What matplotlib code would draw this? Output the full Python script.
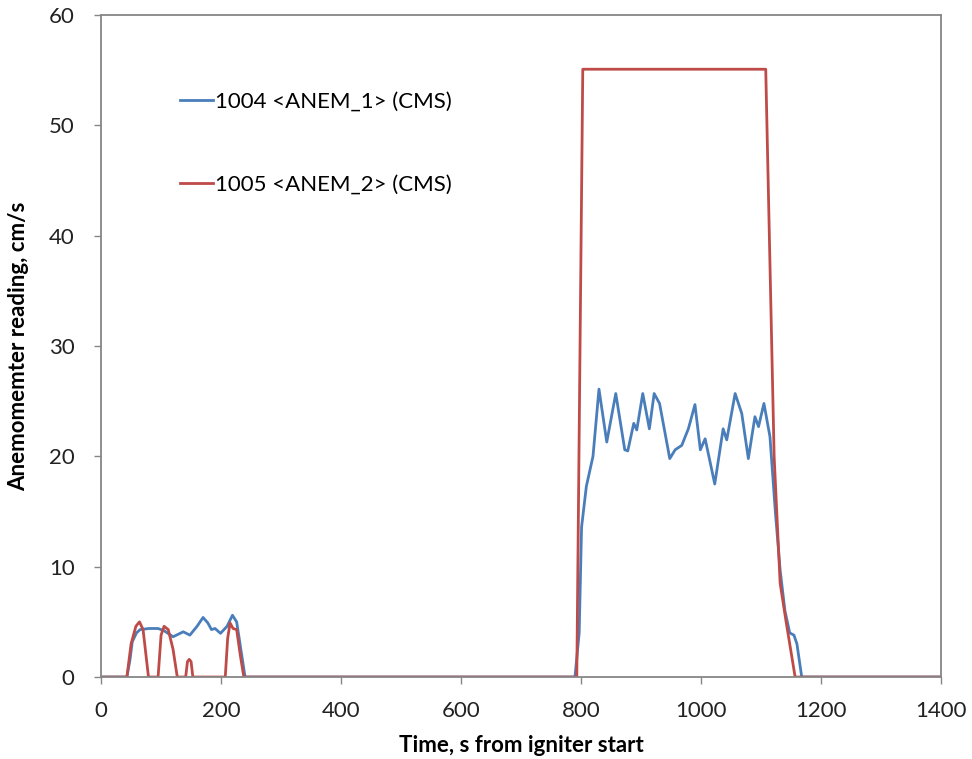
import matplotlib
matplotlib.use('Agg')
import matplotlib.pyplot as plt

# anemometer 1 (blue)
t1 = [0, 43, 48, 52, 59, 65, 80, 95, 105, 120, 137, 148, 160, 170, 178, 184, 190, 199, 210,
      219, 226, 233, 240, 250, 790, 797, 801, 809, 820, 830, 843, 858, 873, 878, 888, 893, 903,
      914, 922, 931, 948, 957, 968, 979, 990, 999, 1007, 1023, 1037, 1043, 1057, 1068, 1079,
      1090, 1096, 1105, 1115, 1124, 1132, 1140, 1148, 1155, 1160, 1168, 1400]
v1 = [0, 0, 1.5, 3.2, 4.0, 4.3, 4.4, 4.4, 4.2, 3.65, 4.1, 3.8, 4.6, 5.4, 4.9, 4.3, 4.4, 3.96, 4.6,
      5.6, 5.0, 2.5, 0, 0, 0, 4.0, 13.6, 17.3, 20.0, 26.1, 21.3, 25.7, 20.6, 20.5, 23.0, 22.4, 25.7,
      22.5, 25.7, 24.8, 19.8, 20.6, 21.0, 22.5, 24.7, 20.6, 21.6, 17.5, 22.5, 21.5, 25.7, 23.9, 19.8,
      23.6, 22.7, 24.8, 21.8, 15.0, 9.7, 6.0, 4.0, 3.8, 3.0, 0, 0]

# anemometer 2 (red)
t2 = [0, 43, 50, 58, 64, 70, 79, 95, 100, 105, 112, 120, 127, 141, 144, 147, 150, 153, 207, 211,
      215, 220, 226, 232, 238, 793, 803, 1108, 1122, 1132, 1142, 1157, 1400]
v2 = [0, 0, 3.0, 4.6, 5.0, 4.3, 0, 0, 3.8, 4.6, 4.3, 2.5, 0, 0, 1.4, 1.6, 1.4, 0, 0, 3.5,
      4.9, 4.4, 4.3, 2.0, 0, 0, 55.1, 55.1, 20.0, 8.5, 5.0, 0, 0]

xticks = [0, 200, 400, 600, 800, 1000, 1200, 1400]
yticks = [0, 10, 20, 30, 40, 50, 60]

plt.rcParams['font.family'] = ['Lato', 'DejaVu Sans']

fig = plt.figure(figsize=(9.72, 7.59), dpi=100)
ax = fig.add_axes([0.104, 0.108, 0.864, 0.872])

ax.plot(t1, v1, color='#4a7ebb', lw=2.0, label='1004 <ANEM_1> (CMS)')
ax.plot(t2, v2, color='#be4b48', lw=2.0, label='1005 <ANEM_2> (CMS)')

ax.set_xlim(0, 1400)
ax.set_ylim(0, 60)
ax.set_xticks(xticks)
ax.set_yticks(yticks)
ax.tick_params(labelsize=16, colors='#222222', length=5, width=1)
ax.tick_params(axis='both', color='#868686')
ax.tick_params(axis='x', pad=12)
ax.tick_params(axis='y', pad=14)
for s in ax.spines.values():
    s.set_color('#868686')
    s.set_linewidth(1.3)

ax.set_xlabel('Time, s from igniter start', fontsize=16, fontweight='bold', labelpad=10)
ax.set_ylabel('Anemomemter reading, cm/s', fontsize=16, fontweight='bold', labelpad=14)

ax.legend(loc='upper left', bbox_to_anchor=(0.07, 0.915), frameon=False, fontsize=16,
          handlelength=1.5, handletextpad=0.1, labelspacing=2.85)

plt.savefig('out.png', dpi=100)
